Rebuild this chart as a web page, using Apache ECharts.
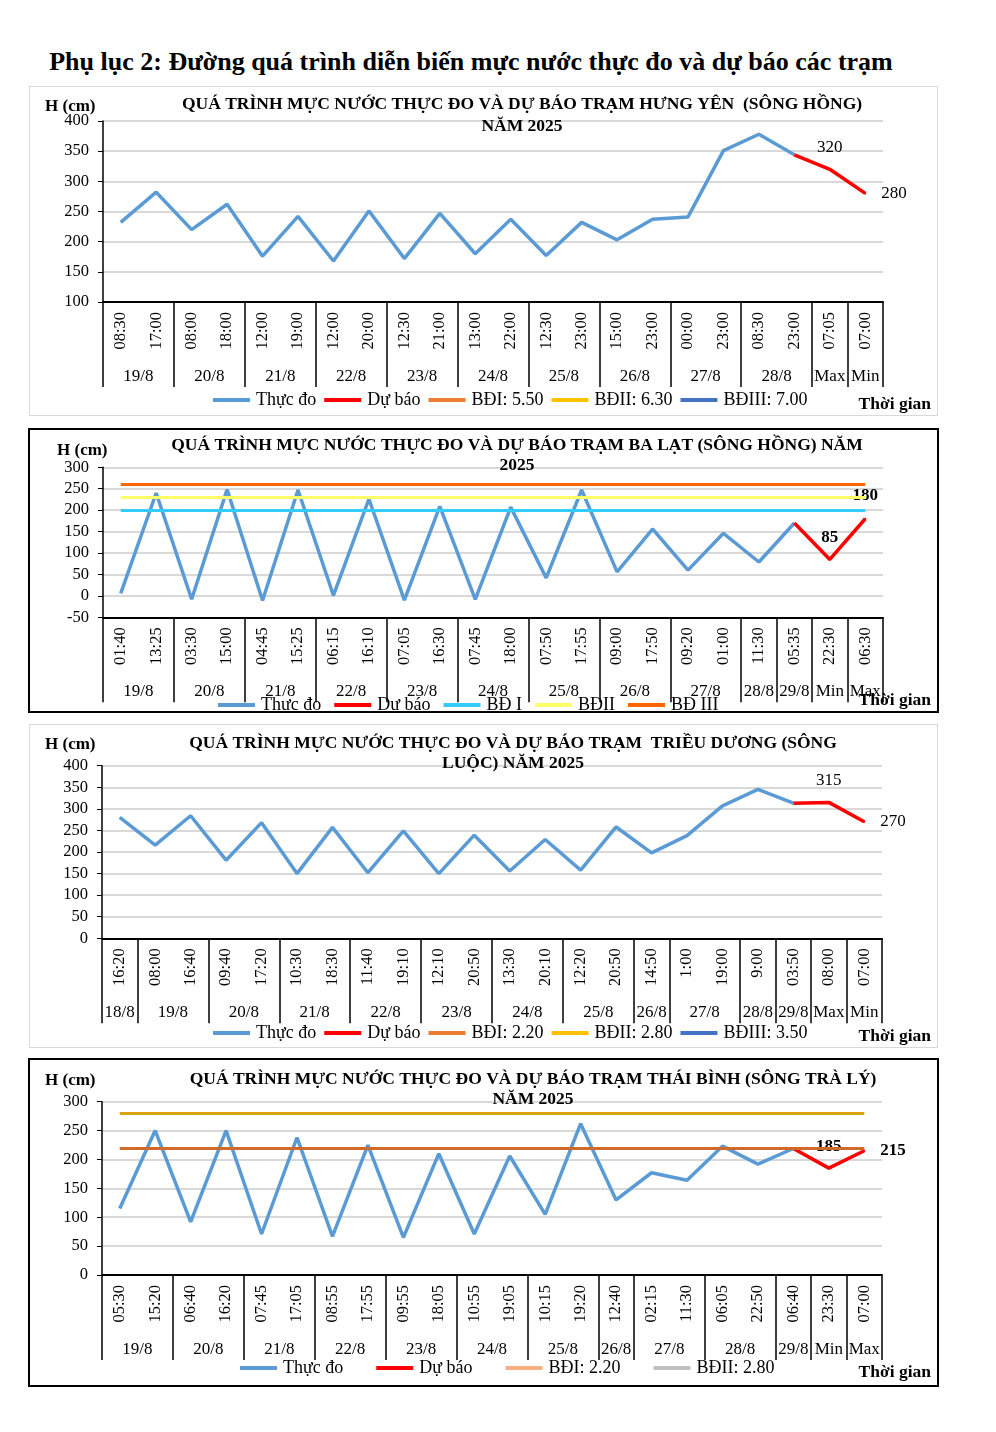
<!DOCTYPE html>
<html>
<head>
<meta charset="utf-8">
<script src="https://cdn.jsdelivr.net/npm/echarts/dist/echarts.min.js"></script>
<style>
  html, body { margin: 0; padding: 0; background: #fff; }
  body { width: 996px; height: 1432px; position: relative; overflow: hidden; }
  #heading { position: absolute; left: 0; top: 47px; width: 942px; text-align: center; line-height: 32px;
    font: bold 26px "Liberation Serif", "Times New Roman", serif; color: #000; margin: 0; }
  .box { position: absolute; left: 30px; width: 907px; background: #fff; }
  #c1 { top: 87px; height: 328px; outline: 1px solid #d9d9d9; }
  #c2 { top: 430px; height: 281px; outline: 2px solid #000; }
  #c3 { top: 725px; height: 322px; outline: 1px solid #d9d9d9; }
  #c4 { top: 1060px; height: 325px; outline: 2px solid #000; }
</style>
</head>
<body>
<h1 id="heading">Phụ lục 2: Đường quá trình diễn biến mực nước thực đo và dự báo các trạm</h1>
<div id="c1" class="box"></div>
<div id="c2" class="box"></div>
<div id="c3" class="box"></div>
<div id="c4" class="box"></div>
<script>
// ---------- Chart 1: Hưng Yên ----------
const hyTitle = ['QUÁ TRÌNH MỰC NƯỚC THỰC ĐO VÀ DỰ BÁO TRẠM HƯNG YÊN  (SÔNG HỒNG)', 'NĂM 2025'];
const hyTimes = ['08:30','17:00','08:00','18:00','12:00','19:00','12:00','20:00','12:30','21:00','13:00','22:00','12:30','23:00','15:00','23:00','00:00','23:00','08:30','23:00','07:05','07:00'];
const hyDates = ['19/8','20/8','21/8','22/8','23/8','24/8','25/8','26/8','27/8','28/8','Max','Min'];
const hyDateSpans = [2,2,2,2,2,2,2,2,2,2,1,1];
const hyObserved = [232,282,220,262,176,242,168,251,172,247,180,237,177,232,203,237,241,351,378,344,null,null];
const hyForecast = [null,null,null,null,null,null,null,null,null,null,null,null,null,null,null,null,null,null,null,344,320,280];
const hyLegend = ['Thực đo','Dự báo','BĐI: 5.50','BĐII: 6.30','BĐIII: 7.00'];
const hyLevels = [];
const hyYTicks = [100, 400, 50];

// ---------- Chart 2: Ba Lạt ----------
const blTitle = ['QUÁ TRÌNH MỰC NƯỚC THỰC ĐO VÀ DỰ BÁO TRẠM BA LẠT (SÔNG HỒNG) NĂM', '2025'];
const blTimes = ['01:40','13:25','03:30','15:00','04:45','15:25','06:15','16:10','07:05','16:30','07:45','18:00','07:50','17:55','09:00','17:50','09:20','01:00','11:30','05:35','22:30','06:30'];
const blDates = ['19/8','20/8','21/8','22/8','23/8','24/8','25/8','26/8','27/8','28/8','29/8','Min','Max'];
const blDateSpans = [2,2,2,2,2,2,2,2,2,1,1,1,1];
const blObserved = [6,240,-8,248,-11,247,1,226,-10,209,-8,207,42,247,56,156,60,146,79,170,null,null];
const blForecast = [null,null,null,null,null,null,null,null,null,null,null,null,null,null,null,null,null,null,null,170,85,180];
const blLegend = ['Thực đo','Dự báo','BĐ I','BĐII','BĐ III'];
const blLevels = [200, 230, 260];
const blYTicks = [-50, 300, 50];

// ---------- Chart 3: Triều Dương ----------
const tdTitle = ['QUÁ TRÌNH MỰC NƯỚC THỰC ĐO VÀ DỰ BÁO TRẠM  TRIỀU DƯƠNG (SÔNG', 'LUỘC) NĂM 2025'];
const tdTimes = ['16:20','08:00','16:40','09:40','17:20','10:30','18:30','11:40','19:10','12:10','20:50','13:30','20:10','12:20','20:50','14:50','1:00','19:00','9:00','03:50','08:00','07:00'];
const tdDates = ['18/8','19/8','20/8','21/8','22/8','23/8','24/8','25/8','26/8','27/8','28/8','29/8','Max','Min'];
const tdDateSpans = [1,2,2,2,2,2,2,2,1,2,1,1,1,1];
const tdObserved = [280,216,284,181,268,150,257,152,249,150,239,156,229,158,258,198,238,307,345,313,null,null];
const tdForecast = [null,null,null,null,null,null,null,null,null,null,null,null,null,null,null,null,null,null,null,313,315,270];
const tdLegend = ['Thực đo','Dự báo','BĐI: 2.20','BĐII: 2.80','BĐIII: 3.50'];
const tdLevels = [];
const tdYTicks = [0, 400, 50];

// ---------- Chart 4: Thái Bình ----------
const tbTitle = ['QUÁ TRÌNH MỰC NƯỚC THỰC ĐO VÀ DỰ BÁO TRẠM THÁI BÌNH (SÔNG TRÀ LÝ)', 'NĂM 2025'];
const tbTimes = ['05:30','15:20','06:40','16:20','07:45','17:05','08:55','17:55','09:55','18:05','10:55','19:05','10:15','19:20','12:40','02:15','11:30','06:05','22:50','06:40','23:30','07:00'];
const tbDates = ['19/8','20/8','21/8','22/8','23/8','24/8','25/8','26/8','27/8','28/8','29/8','Min','Max'];
const tbDateSpans = [2,2,2,2,2,2,2,1,2,2,1,1,1];
const tbObserved = [115,250,92,250,71,238,67,225,65,210,71,206,105,262,130,177,164,223,192,219,null,null];
const tbForecast = [null,null,null,null,null,null,null,null,null,null,null,null,null,null,null,null,null,null,null,219,185,215];
const tbLegend = ['Thực đo','Dự báo','BĐI: 2.20','BĐII: 2.80'];
const tbLevels = [220, 280];
const tbYTicks = [0, 300, 50];

const FONT = '"Liberation Serif","Times New Roman",serif';

function build(id, cfg) {
  const N = cfg.times.length;
  const slots = new Array(2 * N + 1).fill('');
  const bounds = new Set([0]);
  let start = 0;
  cfg.spans.forEach((n, g) => {
    slots[2 * start + n] = cfg.dates[g];
    start += n;
    bounds.add(2 * start);
  });

  const fcData = cfg.forecast.map((v, i) => {
    if (i >= N - 2 && v != null) {
      return {
        value: v, symbol: 'circle', symbolSize: 2,
        label: { show: true, position: cfg.fcLabelPos[i - (N - 2)], distance: cfg.fcLabelDist[i - (N - 2)],
          fontFamily: FONT, fontSize: 17, color: '#000', fontWeight: cfg.fcBold ? 'bold' : 'normal' }
      };
    }
    return v;
  });

  const markData = cfg.levels.map((lv, k) => [
    { coord: [0, lv], lineStyle: { color: cfg.levelLineColors[k], width: 3, type: 'solid' } },
    { coord: [N - 1, lv] }
  ]);

  const series = [
    { name: cfg.legend[0], type: 'line', data: cfg.observed, symbol: 'none', z: 3,
      itemStyle: { color: '#5B9BD5' }, lineStyle: { color: '#5B9BD5', width: 3.5 },
      markLine: { silent: true, symbol: ['none', 'none'], label: { show: false }, animation: false, data: markData } },
    { name: cfg.legend[1], type: 'line', data: fcData, symbol: 'none', z: 4,
      itemStyle: { color: '#FF0000' }, lineStyle: { color: '#FF0000', width: 3.5 } }
  ];
  for (let k = 2; k < cfg.legend.length; k++) {
    series.push({ name: cfg.legend[k], type: 'line', data: [], symbol: 'none',
      itemStyle: { color: cfg.legendColors[k - 2] }, lineStyle: { color: cfg.legendColors[k - 2] } });
  }

  const chart = echarts.init(document.getElementById(id), null, { renderer: 'canvas' });
  chart.setOption({
    animation: false,
    backgroundColor: '#fff',
    grid: Object.assign({ outerBoundsMode: 'none', containLabel: false }, cfg.grid),
    xAxis: [
      { type: 'category', data: cfg.times, boundaryGap: true, position: 'bottom',
        axisLine: { show: true, onZero: false, lineStyle: { color: '#000', width: 2 } },
        axisTick: { show: false },
        axisLabel: { interval: 0, rotate: 90, margin: 10, fontFamily: FONT, fontSize: 16.5, color: '#000' },
        splitLine: { show: false } },
      { type: 'category', data: slots, boundaryGap: false, position: 'bottom',
        axisLine: { show: false, onZero: false },
        axisTick: { show: true, interval: (i) => bounds.has(i), length: 85, lineStyle: { color: '#000', width: 1.5 } },
        axisLabel: { interval: 0, margin: 66, fontFamily: FONT, fontSize: 17, color: '#000' },
        splitLine: { show: false } }
    ],
    yAxis: { type: 'value', min: cfg.yTicks[0], max: cfg.yTicks[1], interval: cfg.yTicks[2],
      axisLine: { show: true, lineStyle: { color: '#000', width: 1.5 } },
      axisTick: { show: true, length: 5, lineStyle: { color: '#000' } },
      axisLabel: { margin: 14, fontFamily: FONT, fontSize: 16.5, color: '#000' },
      splitLine: { show: true, lineStyle: { color: '#d9d9d9', width: 2 } } },
    legend: { data: cfg.legend, left: cfg.legendLeft, top: cfg.legendTop, icon: 'rect', itemWidth: 37, itemHeight: 4,
      itemGap: cfg.legendGap, selectedMode: false, padding: 0,
      textStyle: { fontFamily: FONT, fontSize: 18, color: '#000', padding: [0, 0, 0, 1] } },
    graphic: [
      { type: 'text', x: cfg.titleX, y: cfg.titleY, z: 10,
        style: { text: cfg.title.join('\n'), textAlign: 'center', textVerticalAlign: 'top', lineHeight: cfg.titleLH,
          font: 'bold 17.5px ' + FONT, fill: '#000' } },
      { type: 'text', x: cfg.hX, y: cfg.hY, z: 10,
        style: { text: 'H (cm)', textAlign: 'left', textVerticalAlign: 'top', font: 'bold 17px ' + FONT, fill: '#000' } },
      { type: 'text', x: 901, y: cfg.tgY, z: 10,
        style: { text: 'Thời gian', textAlign: 'right', textVerticalAlign: 'middle', font: 'bold 17.5px ' + FONT, fill: '#000' } }
    ],
    series: series
  });
}

build('c1', { title: hyTitle, times: hyTimes, dates: hyDates, spans: hyDateSpans, observed: hyObserved, forecast: hyForecast,
  legend: hyLegend, legendColors: ['#ED7D31', '#FFC000', '#4472C4'], levels: hyLevels, levelLineColors: [],
  yTicks: hyYTicks, grid: { left: 73, top: 34, width: 780, height: 181 },
  titleX: 492, titleY: 6, titleLH: 22, hX: 15, hY: 11, tgY: 317,
  fcLabelPos: ['top', 'right'], fcLabelDist: [12, 15], fcBold: false,
  legendLeft: 183, legendTop: 304, legendGap: 8 });

build('c2', { title: blTitle, times: blTimes, dates: blDates, spans: blDateSpans, observed: blObserved, forecast: blForecast,
  legend: blLegend, legendColors: ['#33CCFF', '#FFFF66', '#FF6600'], levels: blLevels, levelLineColors: ['#33CCFF', '#FFFF66', '#FF6600'],
  yTicks: blYTicks, grid: { left: 73, top: 37.3, width: 780, height: 150 },
  titleX: 487, titleY: 5, titleLH: 20, hX: 27, hY: 12, tgY: 270,
  fcLabelPos: ['top', 'top'], fcLabelDist: [12, 14], fcBold: true,
  legendLeft: 188, legendTop: 266, legendGap: 13 });

build('c3', { title: tdTitle, times: tdTimes, dates: tdDates, spans: tdDateSpans, observed: tdObserved, forecast: tdForecast,
  legend: tdLegend, legendColors: ['#ED7D31', '#FFC000', '#4472C4'], levels: tdLevels, levelLineColors: [],
  yTicks: tdYTicks, grid: { left: 72, top: 40.7, width: 780, height: 172.6 },
  titleX: 483, titleY: 8, titleLH: 20, hX: 15, hY: 11, tgY: 311,
  fcLabelPos: ['top', 'right'], fcLabelDist: [12, 15], fcBold: false,
  legendLeft: 183, legendTop: 299, legendGap: 8 });

build('c4', { title: tbTitle, times: tbTimes, dates: tbDates, spans: tbDateSpans, observed: tbObserved, forecast: tbForecast,
  legend: tbLegend, legendColors: ['#F4B183', '#BFBFBF'], levels: tbLevels, levelLineColors: ['#D0692A', '#DAA312'],
  yTicks: tbYTicks, grid: { left: 72, top: 41.7, width: 780, height: 173.3 },
  titleX: 503, titleY: 9, titleLH: 20, hX: 15, hY: 12, tgY: 312,
  fcLabelPos: ['top', 'right'], fcLabelDist: [12, 15], fcBold: true,
  legendLeft: 210, legendTop: 299, legendGap: 33 });
</script>
</body>
</html>
